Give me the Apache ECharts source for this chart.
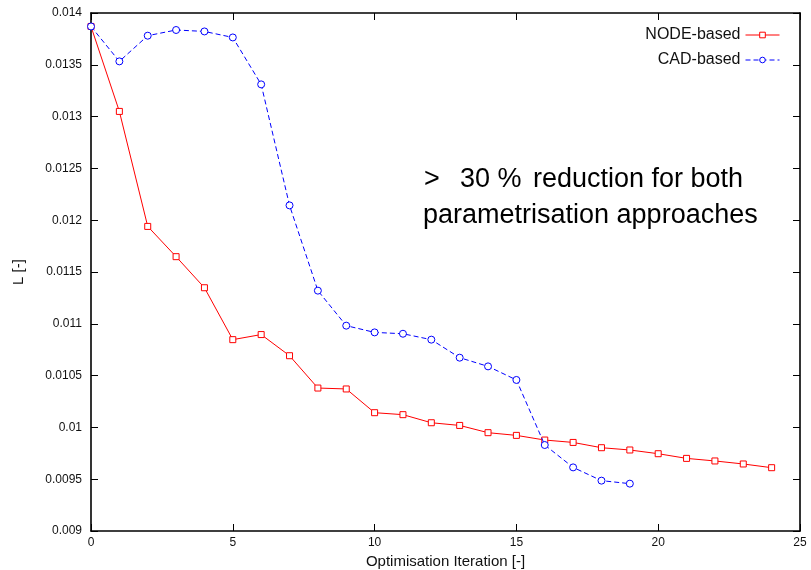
<!DOCTYPE html>
<html>
<head>
<meta charset="utf-8">
<script src="https://cdn.jsdelivr.net/npm/echarts@6/dist/echarts.min.js"></script>
<style>
html, body { margin: 0; padding: 0; background: #fff; }
#main { width: 811px; height: 570px; }
</style>
</head>
<body>
<div id="main"></div>
<script>
// iteration numbers
var nodeIter = [0,1,2,3,4,5,6,7,8,9,10,11,12,13,14,15,16,17,18,19,20,21,22,23,24];
var nodeL = [0.01387, 0.01305, 0.01194, 0.011648, 0.011348, 0.010847, 0.010896, 0.010692,
    0.01038, 0.010371, 0.010142, 0.010123, 0.010045, 0.010019, 0.009949, 0.009923,
    0.009878, 0.009855, 0.009804, 0.009782, 0.009746, 0.009701, 0.009676, 0.009647, 0.009611];
var cadIter = [0,1,2,3,4,5,6,7,8,9,10,11,12,13,14,15,16,17,18,19];
var cadL = [0.01387, 0.013533, 0.013781, 0.013836, 0.013822, 0.013764, 0.013311, 0.012143,
    0.01132, 0.010982, 0.010917, 0.010904, 0.010847, 0.010673, 0.010589, 0.010458,
    0.00983, 0.009614, 0.009486, 0.009457];
var seriesNames = ['NODE-based', 'CAD-based'];
// annotation, first line is split in pieces for the math spacing
var notePieces = ['>', '30 %', 'reduction for both'];
var noteLine2 = 'parametrisation approaches';

function pairs(xs, ys) {
    return xs.map(function (x, i) { return [x, ys[i]]; });
}

var font = 'Liberation Sans';
var myChart = echarts.init(document.getElementById('main'));

// ticks pointing into the plot (negative length flips them)
var tickIn = { show: true, inside: false, length: -7, lineStyle: { color: '#000', width: 1 } };
var frameLine = { show: true, onZero: false, lineStyle: { color: '#000', width: 1.6 } };

function noteText(str, left, top) {
    return {
        type: 'text', left: left, top: top,
        style: { text: str, fontFamily: font, fontSize: 27, fill: '#000' }
    };
}

option = {
    animation: false,
    backgroundColor: '#fff',
    grid: {
        left: 91,
        right: 11,
        top: 13,
        bottom: 39,
        containLabel: false,
        outerBoundsMode: 'none'
    },
    legend: {
        data: seriesNames,
        orient: 'vertical',
        right: 26,
        top: 22,
        align: 'right',
        itemWidth: 34,
        itemHeight: 7,
        itemGap: 9,
        itemStyle: { borderWidth: 1 },
        lineStyle: { width: 1 },
        textStyle: { fontFamily: font, fontSize: 16, color: '#111' }
    },
    xAxis: [
        {
            type: 'value',
            min: 0,
            max: 25,
            interval: 5,
            name: 'Optimisation Iteration [-]',
            nameLocation: 'middle',
            nameGap: 22,
            nameTextStyle: { fontFamily: font, fontSize: 15, color: '#111' },
            axisLine: frameLine,
            axisTick: tickIn,
            axisLabel: { fontFamily: font, fontSize: 12, color: '#111', margin: 6 },
            splitLine: { show: false }
        },
        {
            type: 'value', position: 'top', min: 0, max: 25, interval: 5,
            axisLine: frameLine, axisTick: tickIn,
            axisLabel: { show: false }, splitLine: { show: false }
        }
    ],
    yAxis: [
        {
            type: 'value',
            min: 0.009,
            max: 0.014,
            interval: 0.0005,
            name: 'L [-]',
            nameLocation: 'middle',
            nameGap: 65,
            nameTextStyle: { fontFamily: font, fontSize: 15, color: '#111' },
            axisLine: frameLine,
            axisTick: tickIn,
            axisLabel: {
                fontFamily: font, fontSize: 12, color: '#111', margin: 9,
                formatter: function (v) { return String(parseFloat(v.toFixed(5))); }
            },
            splitLine: { show: false }
        },
        {
            type: 'value', position: 'right', min: 0.009, max: 0.014, interval: 0.0005,
            axisLine: frameLine, axisTick: tickIn,
            axisLabel: { show: false }, splitLine: { show: false }
        }
    ],
    graphic: [
        noteText(notePieces[0], 424, 166),
        noteText(notePieces[1], 460, 166),
        noteText(notePieces[2], 533, 166),
        noteText(noteLine2, 423, 202)
    ],
    series: [
        {
            name: seriesNames[0],
            type: 'line',
            data: pairs(nodeIter, nodeL),
            symbol: 'rect',
            symbolSize: 6,
            showAllSymbol: true,
            color: '#ff0000',
            itemStyle: { color: '#fff', borderColor: '#ff0000', borderWidth: 1 },
            lineStyle: { color: '#ff0000', width: 1, type: 'solid' },
            z: 3
        },
        {
            name: seriesNames[1],
            type: 'line',
            data: pairs(cadIter, cadL),
            symbol: 'circle',
            symbolSize: 7,
            showSymbol: true,
            showAllSymbol: true,
            color: '#0000ff',
            itemStyle: { color: '#fff', borderColor: '#0000ff', borderWidth: 1, borderType: 'solid' },
            lineStyle: { color: '#0000ff', width: 1, type: [5, 3] },
            z: 4
        }
    ]
};

myChart.setOption(option);
window.onresize = myChart.resize;
</script>
</body>
</html>
